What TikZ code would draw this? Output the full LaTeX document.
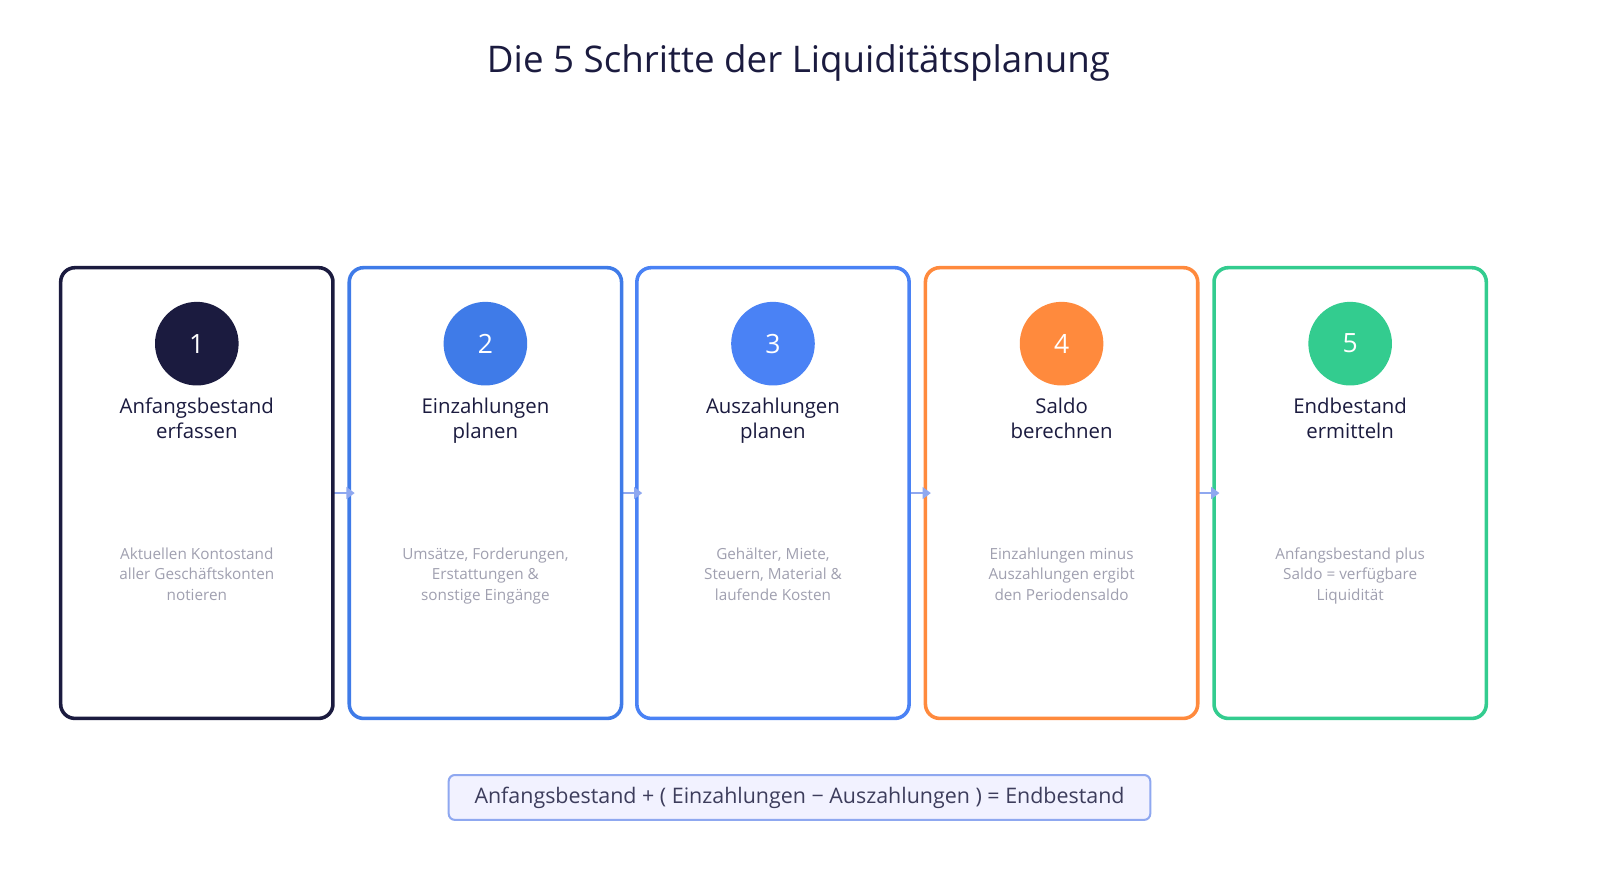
\documentclass[tikz,border=0pt]{standalone}
\usepackage{fontspec}
\setmainfont{Open Sans}
\usetikzlibrary{arrows.meta}
\definecolor{cdark}{HTML}{1B1B3F}
\definecolor{cblue}{HTML}{3F7BE8}
\definecolor{cblue2}{HTML}{4A82F5}
\definecolor{corange}{HTML}{FF8A3D}
\definecolor{cgreen}{HTML}{33CC8F}
\definecolor{cgray}{HTML}{A0A0B0}
\definecolor{carrow}{HTML}{8FA8F0}
\tikzset{
 card/.style={draw=#1,line width=3.5pt,rounded corners=14pt,minimum width=267pt,minimum height=442pt,fill=white},
 num/.style={circle,fill=#1,minimum size=82pt,text=white,font=\fontsize{26}{30}\selectfont},
 ttl/.style={align=center,anchor=north,text=cdark,font=\fontsize{20}{25}\selectfont},
 desc/.style={align=center,anchor=north,text=cgray,font=\fontsize{15}{20}\selectfont},
 flow/.style={draw=carrow,line width=2pt,-{Triangle[length=8pt,width=10pt]}}
}
\begin{document}
\begin{tikzpicture}[x=1pt,y=-1pt]
\useasboundingbox (0,0) rectangle (1569,853);
\node[text=cdark,font=\fontsize{36}{40}\selectfont] (title) at (783,62) {Die 5 Schritte der Liquiditätsplanung};
\foreach \i/\x in {1/193,2/476,3/758,4/1041,5/1324} { \coordinate (c\i) at (\x,483); }
\foreach \a/\b in {1/2,2/3,3/4,4/5} { \draw[flow] (c\a) -- (c\b); }
\foreach \i/\x/\c/\t/\d in {
 1/193/cdark/{Anfangsbestand\\erfassen}/{Aktuellen Kontostand\\aller Geschäftskonten\\notieren},
 2/476/cblue/{Einzahlungen\\planen}/{Umsätze, Forderungen,\\Erstattungen \&\\sonstige Eingänge},
 3/758/cblue2/{Auszahlungen\\planen}/{Gehälter, Miete,\\Steuern, Material \&\\laufende Kosten},
 4/1041/corange/{Saldo\\berechnen}/{Einzahlungen minus\\Auszahlungen ergibt\\den Periodensaldo},
 5/1324/cgreen/{Endbestand\\ermitteln}/{Anfangsbestand plus\\Saldo = verfügbare\\Liquidität}} {
 \node[card=\c] (card\i) at (\x,483.5) {};
 \node[num=\c] (n\i) at (\x,337) {\i};
 \node[ttl] (t\i) at (\x,384) {\strut\t};
 \node[desc] (d\i) at (\x,531) {\strut\d};
}
\foreach \a/\b in {1/2,2/3,3/4,4/5} {
 \fill[carrow] ([xshift=-1pt,yshift=-6pt]card\b.west) -- ([xshift=7pt]card\b.west) -- ([xshift=-1pt,yshift=6pt]card\b.west) -- cycle;
}
\node[draw=carrow,fill=blue!5,line width=2pt,rounded corners=6pt,minimum width=688pt,minimum height=44pt,text=cdark!85,font=\fontsize{21}{25}\selectfont] (formula) at (784,782) {Anfangsbestand + ( Einzahlungen − Auszahlungen ) = Endbestand};
\end{tikzpicture}
\end{document}
